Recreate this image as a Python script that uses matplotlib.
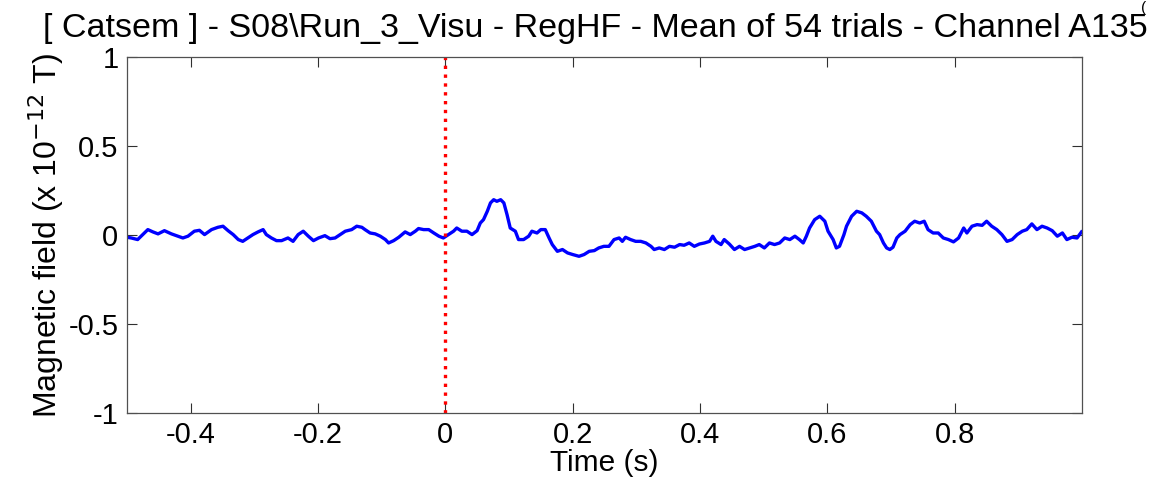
import matplotlib
matplotlib.use("Agg")
import matplotlib.pyplot as plt

# === Data (time in s, field in 1e-12 T) ===
time_s = [
    -0.500, -0.493, -0.483, -0.475, -0.467, -0.459, -0.451, -0.441, -0.430, -0.420,
    -0.412, -0.404, -0.394, -0.386, -0.378, -0.367, -0.357, -0.349, -0.341, -0.333,
    -0.325, -0.318, -0.310, -0.302, -0.294, -0.286, -0.281, -0.273, -0.265, -0.257,
    -0.247, -0.239, -0.231, -0.223, -0.215, -0.207, -0.199, -0.189, -0.181, -0.173,
    -0.165, -0.157, -0.147, -0.139, -0.131,
    -0.126, -0.118, -0.110, -0.102, -0.094, -0.089, -0.081, -0.073, -0.063, -0.055,
    -0.047, -0.042, -0.034, -0.026, -0.018, -0.010, -0.003, 0.005, 0.013, 0.018,
    0.026, 0.034, 0.042, 0.050, 0.055, 0.060, 0.066, 0.071, 0.076, 0.081,
    0.087, 0.092, 0.097, 0.102, 0.110, 0.115, 0.123, 0.131, 0.136, 0.144,
    0.150, 0.157, 0.163, 0.168, 0.176, 0.184, 0.192, 0.200, 0.210, 0.218,
    0.226, 0.234, 0.241, 0.249,
    0.257, 0.265, 0.273, 0.278, 0.283, 0.291, 0.299, 0.307, 0.315, 0.323,
    0.328, 0.336, 0.344, 0.352, 0.360, 0.368, 0.375, 0.383, 0.391, 0.399,
    0.407, 0.415, 0.420, 0.425, 0.433, 0.438, 0.446, 0.454, 0.462, 0.470,
    0.478, 0.486, 0.493, 0.501, 0.509, 0.517, 0.525, 0.533, 0.541, 0.549,
    0.556, 0.562, 0.567, 0.572, 0.580, 0.588, 0.596, 0.601, 0.609, 0.614,
    0.619, 0.626,
    0.630, 0.638, 0.646, 0.654, 0.661, 0.669, 0.677, 0.682, 0.688, 0.693,
    0.698, 0.703, 0.709, 0.714, 0.722, 0.730, 0.737, 0.745, 0.752, 0.758,
    0.766, 0.774, 0.782, 0.790, 0.798, 0.806, 0.814, 0.819, 0.827, 0.835,
    0.843, 0.850, 0.858, 0.866, 0.874, 0.882, 0.890, 0.898, 0.906, 0.913,
    0.921, 0.929, 0.937, 0.945, 0.953, 0.961, 0.969, 0.976, 0.984, 0.992,
    0.999,
]
field = [
    -0.013, -0.017, -0.026, 0.002, 0.030, 0.017, 0.006, 0.024, 0.006, -0.007,
    -0.017, -0.007, 0.021, 0.026, 0.002, 0.030, 0.043, 0.049, 0.024, 0.002,
    -0.026, -0.036, -0.017, 0.002, 0.017, 0.030, 0.002, -0.017, -0.032, -0.032,
    -0.017, -0.036, 0.002, 0.021, -0.007, -0.032, -0.017, -0.004, -0.021, -0.017,
    0.002, 0.021, 0.030, 0.049, 0.043,
    0.030, 0.011, 0.006, -0.007, -0.026, -0.045, -0.032, -0.013, 0.017, 0.002,
    0.021, 0.036, 0.030, 0.030, 0.011, -0.007, -0.017, 0.002, 0.021, 0.039,
    0.021, 0.021, 0.002, 0.024, 0.067, 0.086, 0.133, 0.180, 0.198, 0.189,
    0.198, 0.180, 0.114, 0.039, 0.021, -0.026, -0.026, -0.007, 0.021, 0.011,
    0.030, 0.030, -0.017, -0.054, -0.092, -0.082, -0.101, -0.110, -0.120, -0.110,
    -0.092, -0.088, -0.073, -0.064,
    -0.064, -0.026, -0.017, -0.036, -0.013, -0.026, -0.036, -0.036, -0.045, -0.064,
    -0.082, -0.073, -0.082, -0.064, -0.069, -0.054, -0.058, -0.045, -0.064, -0.051,
    -0.045, -0.036, -0.007, -0.036, -0.054, -0.026, -0.051, -0.082, -0.064, -0.082,
    -0.073, -0.064, -0.054, -0.073, -0.045, -0.054, -0.045, -0.017, -0.026, -0.007,
    -0.026, -0.045, -0.007, 0.039, 0.086, 0.105, 0.077, 0.021, -0.026, -0.073,
    -0.064, 0.002,
    0.049, 0.105, 0.133, 0.124, 0.105, 0.077, 0.021, 0.002, -0.045, -0.073,
    -0.082, -0.069, -0.017, 0.002, 0.021, 0.058, 0.077, 0.067, 0.077, 0.030,
    0.011, 0.011, -0.017, -0.026, -0.039, -0.017, 0.039, 0.011, 0.049, 0.058,
    0.054, 0.077, 0.049, 0.030, 0.002, -0.036, -0.026, 0.002, 0.021, 0.030,
    0.062, 0.030, 0.049, 0.039, 0.024, -0.007, 0.011, -0.026, -0.013, -0.017,
    0.017,
]

plt.rcParams['font.family'] = ['Liberation Sans', 'DejaVu Sans']

fig = plt.figure(figsize=(11.53, 4.91), dpi=100)
ax = fig.add_axes([0.110, 0.159, 0.828, 0.725])

ax.plot(time_s, field, color=(0, 0, 1), linewidth=2.4)
ax.axvline(0, color='red', linestyle=':', linewidth=2.4)

ax.set_xlim(-0.5, 0.999)
ax.set_ylim(-1, 1)
ax.set_xticks([-0.4, -0.2, 0, 0.2, 0.4, 0.6, 0.8])
ax.set_xticklabels(['-0.4', '-0.2', '0', '0.2', '0.4', '0.6', '0.8'])
ax.set_yticks([-1, -0.5, 0, 0.5, 1])
ax.set_yticklabels(['-1', '-0.5', '0', '0.5', '1'])
ax.tick_params(direction='in', length=7, width=0.8, top=True, right=True,
               labelsize=21, colors='#303030', labelcolor='black', pad=6)
for s in ax.spines.values():
    s.set_color('#505050')
    s.set_linewidth(0.9)

ax.set_xlabel("Time (s)", fontsize=21.5, labelpad=0)
ax.set_ylabel(r"Magnetic field (x 10$^{-12}$ T)", fontsize=23, labelpad=2)
fig.text(0.516, 0.942, r"[ Catsem ] - S08\Run_3_Visu - RegHF - Mean of 54 trials - Channel A135",
         ha='center', va='center', fontsize=24.5)
# small glyph at the top-right corner of the original
fig.text(0.992, 0.998, "(", ha='center', va='top', fontsize=11)

fig.savefig("out.png", dpi=100)
